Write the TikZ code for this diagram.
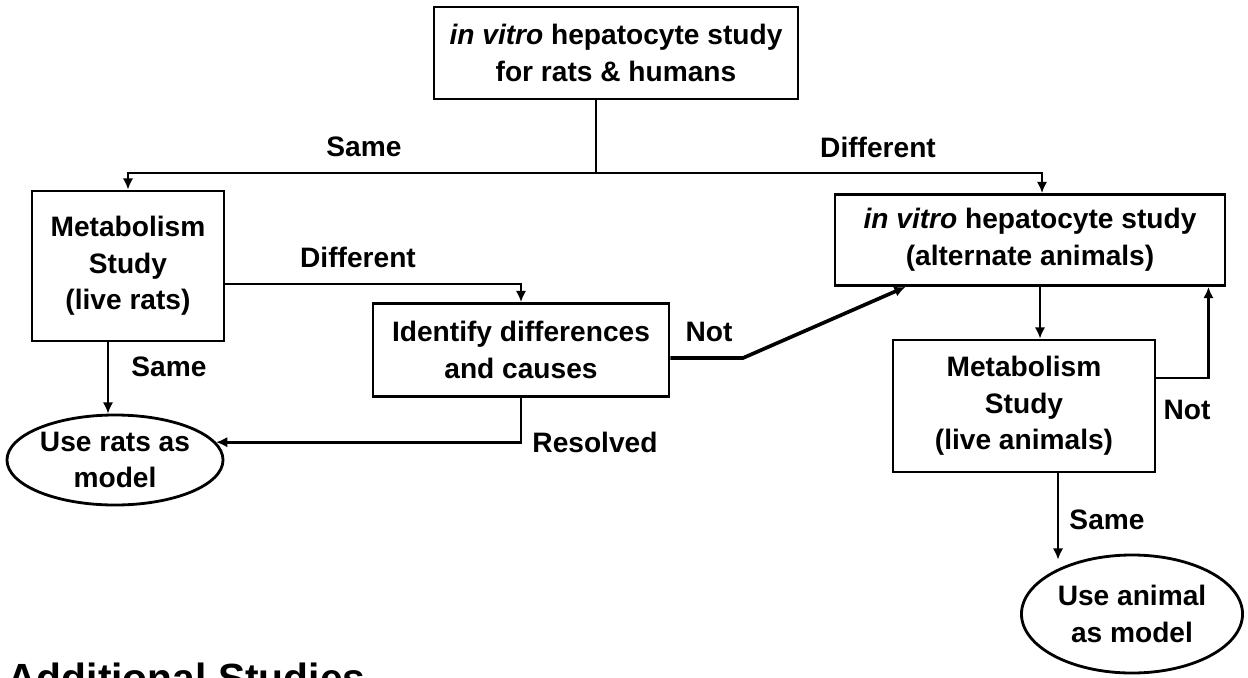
\documentclass[tikz,border=0pt]{standalone}
\usepackage{fontspec}
\setmainfont{Liberation Sans}
\usetikzlibrary{shapes.geometric, arrows.meta}

\begin{document}
\begin{tikzpicture}[x=0.025cm, y=-0.025cm, ->, >={Latex[length=2.8mm, width=2.6mm]}, line width=2pt,
    box/.style={rectangle, draw, align=center, inner sep=0pt, font=\fontsize{20}{26}\selectfont\bfseries},
    oval/.style={ellipse, draw, align=center, inner sep=0pt, font=\fontsize{20}{26}\selectfont\bfseries},
    lbl/.style={inner sep=0pt, font=\fontsize{20}{26}\selectfont\bfseries}]

    \useasboundingbox (0,0) rectangle (1248,677);

        % Hepatocyte study for rats and humans.
        \node[box, minimum width=9.1cm, minimum height=2.3cm] (hepStudy) at (616,53) {\textit{in vitro} hepatocyte study\\for rats \& humans};

        % Rat branch.
        \node[box, minimum width=4.8cm, minimum height=3.75cm] (metabR) at (128,266) {Metabolism\\Study\\(live rats)};
        \node[box, minimum width=7.4cm, minimum height=2.325cm] (ident) at (521,350) {Identify differences\\and causes};
        \node[oval, minimum width=5.4cm, minimum height=2.25cm] (ratsModel) at (115,460) {Use rats as\\model};

        % Alternate animal branch.
        \node[box, minimum width=9.75cm, minimum height=2.275cm] (altHep) at (1030,240) {\textit{in vitro} hepatocyte study\\(alternate animals)};
        \node[box, minimum width=6.55cm, minimum height=3.3cm] (metabA) at (1024,406) {Metabolism\\Study\\(live animals)};
        \node[oval, minimum width=5.525cm, minimum height=2.95cm] (animalModel) at (1132,614) {Use animal\\as model};

        % Labels.
        \node[lbl] (sameTop) at (364,147) {Same};
        \node[lbl] (diffTop) at (878,147) {Different};
        \node[lbl] (diffR) at (358,257) {Different};
        \node[lbl] (sameR) at (169,367) {Same};
        \node[lbl] (resolved) at (595,442) {Resolved};
        \node[lbl] (notIdent) at (709,332) {Not};
        \node[lbl] (notA) at (1187,410) {Not};
        \node[lbl] (sameA) at (1107,520) {Same};

        % Title.
        \node[anchor=north west, inner sep=0pt, font=\fontsize{29}{35}\selectfont\bfseries] (addStudies) at (6,662) {Additional Studies};

        % First split.
        \coordinate (split) at (596,173);
        \draw[-] (hepStudy.south -| split) -- (split);
        \draw (split) -| (metabR.north);
        \draw (split) -| ([xshift=0.3cm]altHep.north);

        % Rat connections.
        \draw ([yshift=-0.45cm]metabR.east) -| (ident.north);
        \draw ([xshift=-0.5cm]metabR.south) -- ([xshift=-0.5cm]metabR.south |- ratsModel.north);
        \draw (ident.south) |- (ratsModel.10);
        \coordinate (bend) at (743,358);
        \draw[line width=2.6pt] ([yshift=-0.2cm]ident.east) -- (bend) -- ([xshift=1.8cm]altHep.south west);

        % Alternate animal connections.
        \draw ([xshift=0.25cm]altHep.south) -- ([xshift=0.25cm]altHep.south |- metabA.north);
        \draw ([yshift=0.7cm]metabA.east) -| ([xshift=-0.45cm]altHep.south east);
        \draw ([xshift=0.85cm]metabA.south) -- ([xshift=0.85cm]metabA.south |- animalModel.132);

    \end{tikzpicture}
\end{document}
